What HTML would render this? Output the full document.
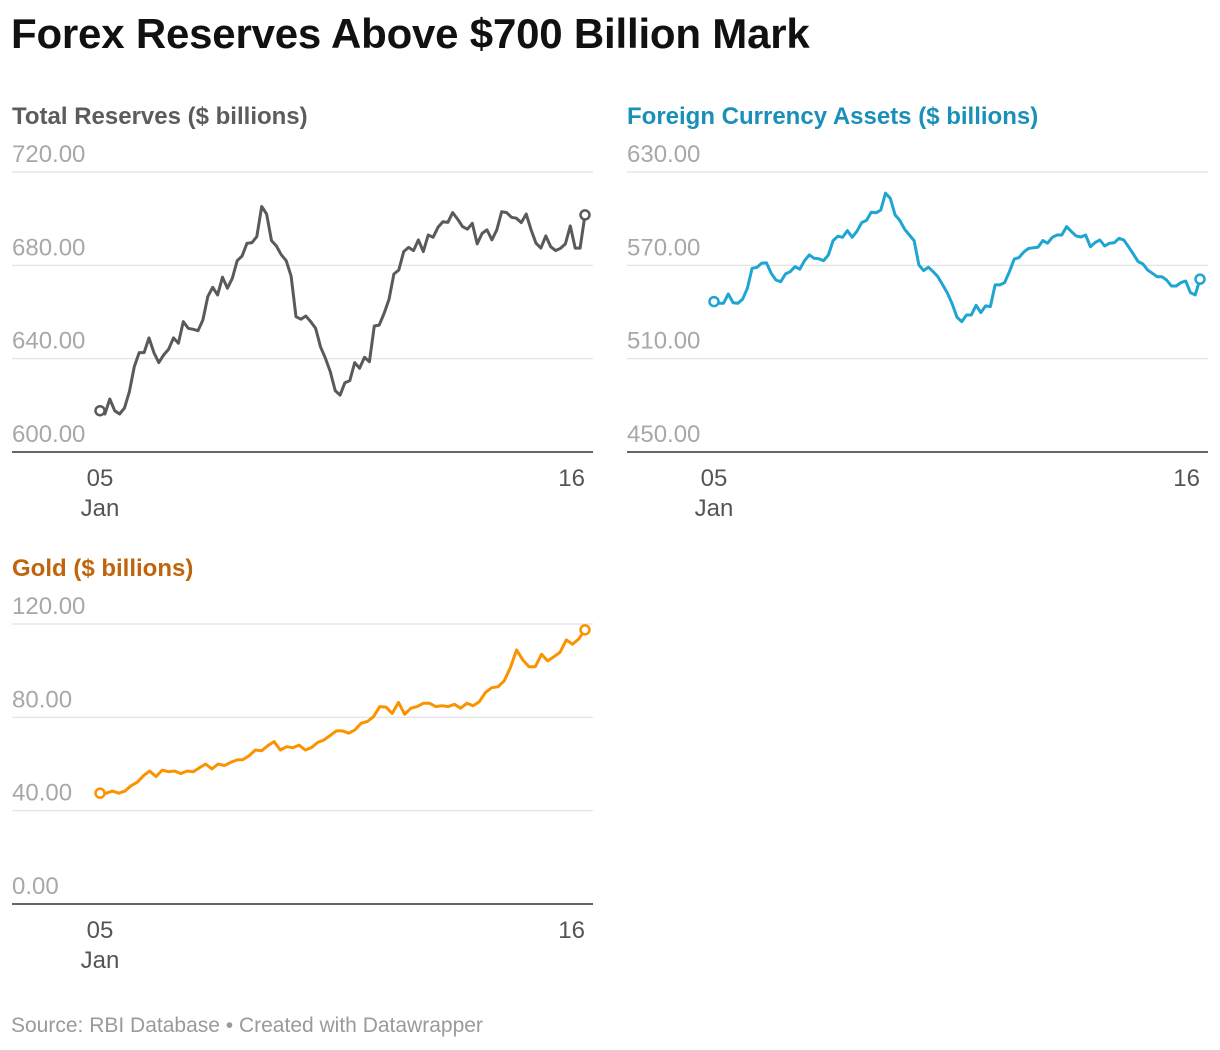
<!DOCTYPE html>
<html><head><meta charset="utf-8"><style>
body{margin:0;background:#fff;font-family:"Liberation Sans",sans-serif;}
#wrap{position:relative;width:1220px;height:1050px;overflow:hidden}
h1{position:absolute;left:11px;top:10px;margin:0;font-size:42px;font-weight:bold;color:#111;letter-spacing:-0.2px}
.src{position:absolute;left:11px;top:1014px;font-size:21px;color:#9a9a9a}
</style></head><body>
<div id="wrap">
<h1>Forex Reserves Above $700 Billion Mark</h1>
<svg id="svg" width="1220" height="1050" style="position:absolute;left:0;top:0"></svg>
<div class="src">Source: RBI Database • Created with Datawrapper</div>
</div>
<script>
const totalValues=[617.7,616.3,622.7,617.7,616.3,618.9,625.9,636.6,642.6,642.6,648.9,642.6,638.3,641.6,644,648.9,646.6,655.9,653,652.6,652,656.6,666.6,670.6,667.3,674.9,670.2,674.4,682,684,689.5,689.7,692.3,705.2,702,690.6,688.3,684.5,682,675.4,658,656.9,658.3,655.9,653,645.1,640.2,634.4,626.3,624.4,629.7,630.6,638.3,635.9,640.6,638.7,654,654.4,659.4,665.4,676.3,678,685.9,687.7,686.3,690.9,685.9,693,692,696.3,698.7,698.4,702.6,699.8,696.6,695.5,698,689.2,693.7,695.2,690.9,695.2,703,702.6,700.6,700.2,698.3,702,695.2,689.5,687.4,692.6,688,686.3,687.3,689.2,696.9,687.4,687.4,701.6];
const fcaValues=[546.7,545.6,545.6,551.6,546,545.6,548.2,555.3,568.1,568.7,571.3,571.7,564.9,560.6,559.5,564.5,565.9,569.2,567.5,573,576.7,574.5,574.2,573,576.7,585.9,588.7,588,592.3,588,591.9,597.5,598.9,604.1,603.8,605.6,616.4,613.1,602.4,598.9,593.2,589.5,585.9,570.3,566.6,568.8,565.9,562.7,557.4,552,545.2,536.6,533.8,538.1,538.1,544.3,539.6,543.9,543.5,557.4,557.4,558.9,565.9,574,575,578.5,580.8,581.3,581.6,585.9,584.2,588,589.5,589.5,594.9,591.7,588.9,588.2,589.5,582,584.7,586.3,582.4,584.2,584.5,587.4,586.3,582,577.3,572.4,571,567,564.9,562.7,562.7,560.6,556.7,556.7,558.9,559.9,552.4,551,561.1];
const goldValues=[47.5,47.5,48.4,47.5,48.4,50.7,52.2,55,57,54.6,57.4,56.7,57,55.9,57,56.7,58.4,60,57.9,60,59.3,60.7,61.7,61.9,63.6,66,65.7,67.9,69.6,66,67.4,67,68.1,66,67,69.2,70.3,72.2,74.2,74.2,73.2,74.6,77.5,78.2,80.3,84.6,84.4,81.7,86.4,81.3,83.9,84.6,86,86,84.6,85,84.6,85.6,83.9,86,85,86.7,90.7,92.7,93.1,95.6,101.3,108.9,104.6,101.7,101.7,107,104.2,106,107.9,113.2,111.3,113.6,117.5];
const totalTicks=["600.00","640.00","680.00","720.00"];
const fcaTicks=["450.00","510.00","570.00","630.00"];
const goldTicks=["0.00","40.00","80.00","120.00"];
const xLabels=["05","16"];

const svg=document.getElementById('svg');
const NS='http://www.w3.org/2000/svg';
function mk(tag,attrs,parent){const e=document.createElementNS(NS,tag);for(const k in attrs)e.setAttribute(k,attrs[k]);(parent||svg).appendChild(e);return e;}

function panel(o){
  const g=mk('g',{});
  
  
  const t=mk('text',{x:o.x0,y:o.top-48,'font-size':24,'font-weight':'bold',fill:o.titleColor,'font-family':'Liberation Sans, sans-serif'},g);
  t.textContent=o.title;
  
  
  const ymin=parseFloat(o.ticks[0]),ymax=parseFloat(o.ticks[o.ticks.length-1]);
  const bottom=o.top+280;
  const y=v=>bottom-(v-ymin)/(ymax-ymin)*280;
  const xs=i=>o.px0+i/(o.values.length-1)*(o.px1-o.px0);
  o.ticks.forEach((tk,i)=>{
    const v=parseFloat(tk),yy=y(v);
    const ln=mk('line',{x1:o.x0,x2:o.x1,y1:yy,y2:yy,stroke:(i===0?'#333':'#e0e0e0'),'stroke-width':(i===0?1.5:1.2)},g);
    
    
    const tx=mk('text',{x:o.x0,y:yy-10,'font-size':24,fill:'#a8a8a8','font-family':'Liberation Sans, sans-serif'},g);
    tx.textContent=tk;
    
    
  });
  let d='';
  o.values.forEach((v,i)=>{d+=(i?'L':'M')+xs(i).toFixed(1)+','+y(v).toFixed(1);});
  const p=mk('path',{d:d,fill:'none',stroke:o.color,'stroke-width':3,'stroke-linejoin':'round'},g);
  
  
  [0,o.values.length-1].forEach(i=>{
    const c=mk('circle',{cx:xs(i),cy:y(o.values[i]),r:4.5,fill:'#fff',stroke:o.color,'stroke-width':2.5},g);
    
    
  });
  [[o.px0,xLabels[0],'middle'],[o.px1,xLabels[1],'end']].forEach(([xx,lab,anc])=>{
    const tx=mk('text',{x:xx,y:bottom+34,'font-size':24,fill:'#555','text-anchor':anc,'font-family':'Liberation Sans, sans-serif'},g);
    tx.textContent=lab;
    
    
  });
  const jan=mk('text',{x:o.px0,y:bottom+64,'font-size':24,fill:'#555','text-anchor':'middle','font-family':'Liberation Sans, sans-serif'},g);
  jan.textContent='Jan';
  
  
}
panel({name:'total-reserves',title:'Total Reserves ($ billions)',titleColor:'#5c5c5c',color:'#5a5a5a',values:totalValues,ticks:totalTicks,x0:12,x1:593,px0:100,px1:585,top:172});
panel({name:'foreign-currency-assets',title:'Foreign Currency Assets ($ billions)',titleColor:'#1a8fb8',color:'#1ea5d2',values:fcaValues,ticks:fcaTicks,x0:627,x1:1208,px0:714,px1:1200,top:172});
panel({name:'gold',title:'Gold ($ billions)',titleColor:'#c0650c',color:'#fb9300',values:goldValues,ticks:goldTicks,x0:12,x1:593,px0:100,px1:585,top:624});
</script>
</body></html>
